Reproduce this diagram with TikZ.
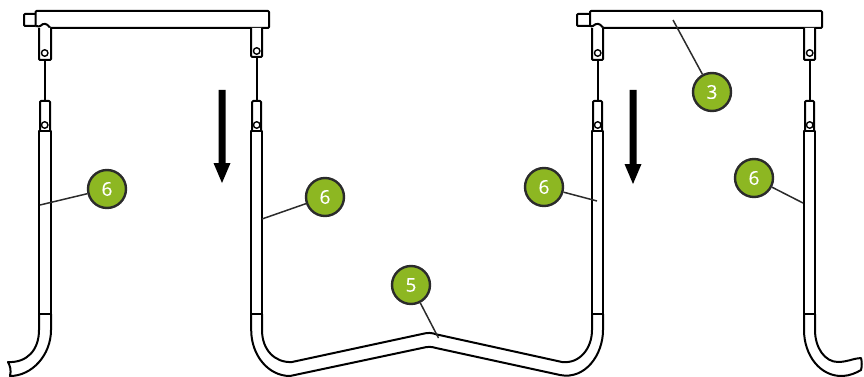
\documentclass[tikz,border=0pt]{standalone}
\usepackage{fontspec}
\setmainfont{Open Sans}
\newfontfamily\calloutfont[FakeBold=0.3]{Open Sans}
\definecolor{calloutgreen}{HTML}{8DB722}
\definecolor{calloutline}{HTML}{2B2B2B}
\tikzset{
  part/.style={draw=black,line width=2pt,line join=round,fill=white},
  outline/.style={draw=black,line width=2pt,line join=round},
  rod/.style={draw=black,line width=2pt},
  hole/.style={draw=black,line width=1.4pt,fill=white,circle,minimum size=6.5pt,inner sep=0pt},
  callout/.style={circle,draw=calloutline,line width=2.4pt,fill=calloutgreen,text=white,minimum size=38pt,inner sep=0pt,font=\calloutfont\fontsize{19}{20}\selectfont},
  leader/.style={draw=calloutline,line width=1.5pt},
  bigarrow/.style={fill=black,draw=none}
}
% #1 bracket left, #2 bracket right, #3 bracket bottom, #4 hole y, #5 centre x
\newcommand{\hanger}[5]{
  \draw[rod] (#5,#3) -- (#5,101);
  \draw[part,rounded corners=1pt] (#1,28) -- (#1,#3) -- (#2,#3) -- (#2,28);
  \node[hole] at (#5,#4) {};
  \draw[part,rounded corners=1pt] (#1+1,131) -- (#1+1,101) -- (#2-1,101) -- (#2-1,131);
  \node[hole] at (#5,125) {};
  \draw[part] (#1,314) -- (#1,131) -- (#2,131) -- (#2,314) -- cycle;
}
\begin{document}
\begin{tikzpicture}[x=1pt,y=-1pt]
\useasboundingbox (0,0) rectangle (864,377);
% left rail
\draw[part,rounded corners=1pt] (35.5,14) -- (24,14) -- (24,26) -- (35.5,26);
\draw[part,rounded corners=1pt] (35.5,26) -- (35.5,11) -- (269,11) -- (269,28) -- (50,28) .. controls (47,23) and (43,23) .. (40,26.5) -- (35.5,26);
\hanger{39}{51}{60}{53}{44.7}
\hanger{251.2}{262}{57}{51}{256.7}
% left foot
\draw[outline] (39,314) -- (39,330) .. controls (39,350) and (27,363) .. (8,362) .. controls (10,366) and (11.5,370) .. (10,376) .. controls (32,376) and (51,355) .. (51,330) -- (51,314);
% U bar
\draw[outline] (251.2,314) -- (251.2,330) .. controls (251.2,355) and (268,376) .. (290,376) -- (422,348) .. controls (428,346.5) and (431,346.5) .. (436,348) -- (560,375) .. controls (585,380) and (603,355) .. (603,330) -- (603,314);
\draw[outline] (262,314) -- (262,330) .. controls (262,350) and (275,363) .. (292,362) -- (422,334) .. controls (428,332.5) and (431,332.5) .. (437,334.5) -- (562,362) .. controls (580,364) and (592,348) .. (592,330) -- (592,314);
% right rail
\draw[part,rounded corners=1pt] (590,14) -- (577,14) -- (577,26) -- (590,26);
\draw[part,rounded corners=1pt] (590,26) -- (590,11) -- (822,11) -- (822,28) -- (603,28) .. controls (600,23) and (596,23) .. (592.5,26.5) -- (590,26);
\hanger{592}{603}{60}{53}{597.7}
\hanger{804}{815}{60}{53}{809.7}
% right foot
\draw[outline] (804,314) -- (804,330) .. controls (804,355) and (820,377) .. (843,376) .. controls (850,375.5) and (856,373) .. (861,370) .. controls (862,366) and (862,362) .. (861,358) .. controls (855,358) and (847,362) .. (838,362) .. controls (825,362) and (815,348) .. (815,330) -- (815,314);
% arrows
\fill[bigarrow] (218.5,90) -- (225.5,90) -- (225.5,163) -- (230.5,163) -- (222,183) -- (213.5,163) -- (218.5,163) -- cycle;
\fill[bigarrow] (629.5,90) -- (636.5,90) -- (636.5,164) -- (641.5,164) -- (633,184) -- (624.5,164) -- (629.5,164) -- cycle;
% callouts
\coordinate (e1) at (40,205);
\coordinate (e2) at (262,219);
\coordinate (e3) at (438.5,338);
\coordinate (e4) at (597,201);
\coordinate (e5) at (673,20);
\coordinate (e6) at (803,203);
\node[callout] (c1) at (107,189) {6};
\node[callout] (c2) at (325,197) {6};
\node[callout] (c3) at (411,285) {5};
\node[callout] (c4) at (544,187) {6};
\node[callout] (c5) at (712,92) {3};
\node[callout] (c6) at (754,178) {6};
\draw[leader] (c1) -- (e1);
\draw[leader] (c2) -- (e2);
\draw[leader] (c3) -- (e3);
\draw[leader] (c4) -- (e4);
\draw[leader] (c5) -- (e5);
\draw[leader] (c6) -- (e6);
\end{tikzpicture}
\end{document}
